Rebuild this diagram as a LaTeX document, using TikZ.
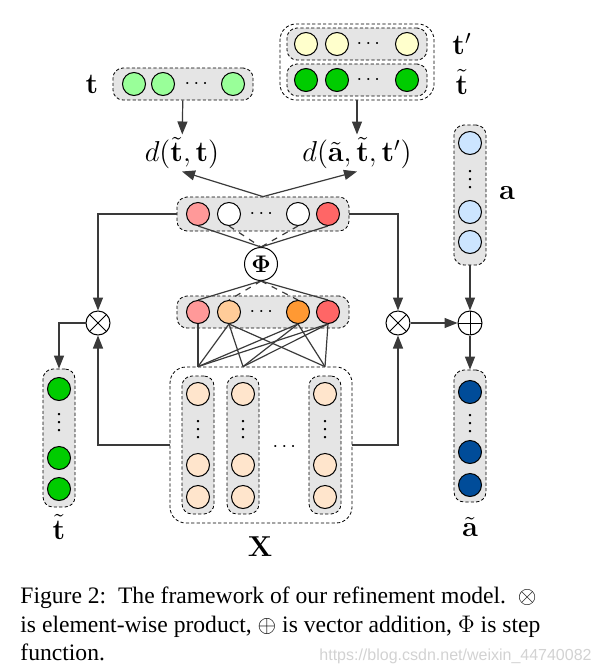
\documentclass[tikz,border=0pt]{standalone}
\usepackage{amsmath, amsfonts, amssymb}
\usepackage[no-math]{fontspec}
\setmainfont{Liberation Serif}
\newfontfamily\marksans{Liberation Sans}
\usetikzlibrary{arrows.meta}

\definecolor{tgreen}{HTML}{99FF99}
\definecolor{dgreen}{HTML}{00CC00}
\definecolor{pyellow}{HTML}{FFFFCC}
\definecolor{pink}{HTML}{FF9999}
\definecolor{pred}{HTML}{FF6666}
\definecolor{porange}{HTML}{FFCC99}
\definecolor{dorange}{HTML}{FF9933}
\definecolor{xcell}{HTML}{FFE5CC}
\definecolor{ablue}{HTML}{CCE5FF}
\definecolor{dblue}{HTML}{004C99}
\definecolor{boxgray}{HTML}{E5E5E5}
\definecolor{line}{HTML}{3A3A3A}

\tikzset{
  cell/.style={circle, draw, line width=0.5pt, minimum size=11.5pt, inner sep=0pt},
  vec/.style={draw, dash pattern=on 1.6pt off 1.1pt, fill=boxgray, rounded corners=5pt, inner sep=0pt},
  group/.style={draw, dash pattern=on 1.6pt off 1.1pt, rounded corners=8pt, inner sep=0pt},
  op/.style={circle, draw, line width=0.5pt, minimum size=12pt, inner sep=0pt},
  times/.style={op, path picture={\draw (path picture bounding box.north west) -- (path picture bounding box.south east) (path picture bounding box.south west) -- (path picture bounding box.north east);}},
  plus/.style={op, path picture={\draw (path picture bounding box.north) -- (path picture bounding box.south) (path picture bounding box.west) -- (path picture bounding box.east);}},
  conn/.style={draw=line, line width=0.6pt},
  arr/.style={conn, -{Triangle[length=6.5pt, width=5pt]}},
  lab/.style={font=\fontsize{14}{16}\selectfont, inner sep=1pt},
  captext/.style={anchor=base west, inner sep=0pt, font=\fontsize{11.8}{14}\selectfont},
}

\begin{document}
\begin{tikzpicture}[x=0.5pt, y=-0.5pt]
\useasboundingbox (0,0) rectangle (604,670);

\path (183,84) node[vec, minimum width=70pt, minimum height=16pt] (tvec) {};
\path (134,84) node[cell, fill=tgreen] (t1) {};
\path (163,84) node[cell, fill=tgreen] (t2) {};
\path (198,84) node (tdots) {$\cdots$};
\path (233,84) node[cell, fill=tgreen] (t3) {};
\path (92,84) node[lab] (tlab) {$\mathbf{t}$};

\path (357,62) node[group, minimum width=77pt, minimum height=38pt] (ttop) {};
\path (357,44) node[vec, minimum width=70pt, minimum height=16pt] (tpvec) {};
\path (357,80) node[vec, minimum width=70pt, minimum height=16pt] (ttvec) {};
\path (306,44) node[cell, fill=pyellow] (tp1) {};
\path (337,44) node[cell, fill=pyellow] (tp2) {};
\path (370,44) node (tpdots) {$\cdots$};
\path (407,44) node[cell, fill=pyellow] (tp3) {};
\path (306,80) node[cell, fill=dgreen] (tt1) {};
\path (337,80) node[cell, fill=dgreen] (tt2) {};
\path (370,80) node (ttdots) {$\cdots$};
\path (407,80) node[cell, fill=dgreen] (tt3) {};
\path (462,44) node[lab] (tplab) {$\mathbf{t}'$};
\path (462,82) node[lab] (ttlab) {$\tilde{\mathbf{t}}$};

\path (182,153) node[lab] (dl) {$d(\tilde{\mathbf{t}},\mathbf{t})$};
\path (357,153) node[lab] (dr) {$d(\tilde{\mathbf{a}},\tilde{\mathbf{t}},\mathbf{t}')$};

\path (263,214) node[vec, minimum width=86pt, minimum height=17pt] (hbox) {};
\path (198,214) node[cell, fill=pink] (h1) {};
\path (229,214) node[cell, fill=white] (h2) {};
\path (263,214) node (hdots) {$\cdots$};
\path (298,214) node[cell, fill=white] (h4) {};
\path (328,214) node[cell, fill=pred] (h5) {};

\path (261,264) node[circle, draw, line width=0.5pt, minimum size=16.5pt, inner sep=0pt, font=\fontsize{12}{14}\selectfont] (phi) {$\mathbf{\Phi}$};

\path (263,312) node[vec, minimum width=86pt, minimum height=16pt] (gbox) {};
\path (198,312) node[cell, fill=pink] (g1) {};
\path (229,312) node[cell, fill=porange] (g2) {};
\path (263,312) node (gdots) {$\cdots$};
\path (298,312) node[cell, fill=dorange] (g4) {};
\path (328,312) node[cell, fill=pred] (g5) {};

\path (98,323) node[times] (mulL) {};
\path (398,323) node[times] (mulR) {};
\path (470,323) node[plus] (add) {};

\path (470,195) node[vec, minimum width=16pt, minimum height=70pt] (avec) {};
\path (470,143) node[cell, fill=ablue] (a1) {};
\path (470,174) node (adots) {$\vdots$};
\path (470,212) node[cell, fill=ablue] (a2) {};
\path (470,242) node[cell, fill=ablue] (a3) {};
\path (507,193) node[lab] (alab) {$\mathbf{a}$};

\path (470,436) node[vec, minimum width=16pt, minimum height=66pt] (atvec) {};
\path (470,392) node[cell, fill=dblue] (at1) {};
\path (470,418) node (atdots) {$\vdots$};
\path (470,452) node[cell, fill=dblue] (at2) {};
\path (470,485) node[cell, fill=dblue] (at3) {};
\path (470,527) node[lab] (atlab) {$\tilde{\mathbf{a}}$};

\path (59,438) node[vec, minimum width=16pt, minimum height=69pt] (tout) {};
\path (59,389) node[cell, fill=dgreen] (o1) {};
\path (59,417) node (odots) {$\vdots$};
\path (59,458) node[cell, fill=dgreen] (o2) {};
\path (59,489) node[cell, fill=dgreen] (o3) {};
\path (59,527) node[lab] (toutlab) {$\tilde{\mathbf{t}}$};

\path (261,445) node[group, minimum width=91pt, minimum height=78pt] (Xbox) {};
\path (198,445) node[vec, minimum width=16pt, minimum height=69pt] (c1) {};
\path (243,445) node[vec, minimum width=16pt, minimum height=69pt] (c2) {};
\path (325,445) node[vec, minimum width=16pt, minimum height=69pt] (c3) {};
\path (198,394) node[cell, fill=xcell] (x11) {};
\path (198,424) node (x1dots) {$\vdots$};
\path (198,465) node[cell, fill=xcell] (x12) {};
\path (198,497) node[cell, fill=xcell] (x13) {};
\path (243,394) node[cell, fill=xcell] (x21) {};
\path (243,424) node (x2dots) {$\vdots$};
\path (243,465) node[cell, fill=xcell] (x22) {};
\path (243,497) node[cell, fill=xcell] (x23) {};
\path (325,394) node[cell, fill=xcell] (x31) {};
\path (325,424) node (x3dots) {$\vdots$};
\path (325,465) node[cell, fill=xcell] (x32) {};
\path (325,497) node[cell, fill=xcell] (x33) {};
\path (286,447) node (xdots) {$\cdots$};
\path (260,547) node[lab] (Xlab) {$\mathbf{X}$};

\coordinate (top1) at (c1.north |- Xbox.north);
\coordinate (top2) at (c2.north |- Xbox.north);
\coordinate (top3) at (c3.north |- Xbox.north);

\draw[arr] (tvec) -- (dl);
\draw[arr] (ttop) -- (dr);
\draw[arr] (hbox.north) -- (dl.south);
\draw[arr] (hbox.north) -- (dr.south);
\draw[conn] (h1.south) -- (phi.north);
\draw[conn, dashed] (h2.south) -- (phi.north);
\draw[conn, dashed] (h4.south) -- (phi.north);
\draw[conn] (h5.south) -- (phi.north);
\draw[conn] (phi.south) -- (g1.north);
\draw[conn, dashed] (phi.south) -- (g2.north);
\draw[conn, dashed] (phi.south) -- (g4.north);
\draw[conn] (phi.south) -- (g5.north);
\draw[conn] (g1.south) -- (top1);
\draw[conn] (g2.south) -- (top1);
\draw[conn] (g2.south) -- (top2);
\draw[conn] (g2.south) -- (top3);
\draw[conn] (g4.south) -- (top1);
\draw[conn] (g4.south) -- (top2);
\draw[conn] (g4.south) -- (top3);
\draw[conn] (g5.south) -- (top1);
\draw[conn] (g5.south) -- (top2);
\draw[conn] (g5.south) -- (top3);
\draw[arr] (hbox.west) -| (mulL.north);
\draw[arr] (hbox.east) -| (mulR.north);
\draw[arr] (Xbox.west) -| (mulL.south);
\draw[arr] (Xbox.east) -| (mulR.south);
\draw[arr] (mulL.west) -| (tout.north);
\draw[arr] (mulR.east) -- (add.west);
\draw[arr] (avec.south) -- (add.north);
\draw[arr] (add.south) -- (atvec.north);

\path (20,603) node[captext] (cap1) {Figure 2:\ \ The framework of our refinement model.\ \ $\otimes$};
\path (20,632) node[captext] (cap2) {is element-wise product, $\oplus$ is vector addition, $\Phi$ is step};
\path (20,660) node[captext] (cap3) {function.};
\path (592,660) node[anchor=base east, inner sep=0pt, text=gray!35, font=\marksans\fontsize{8}{10}\selectfont] (mark) {https://blog.csdn.net/weixin\_44740082};
\end{tikzpicture}
\end{document}
